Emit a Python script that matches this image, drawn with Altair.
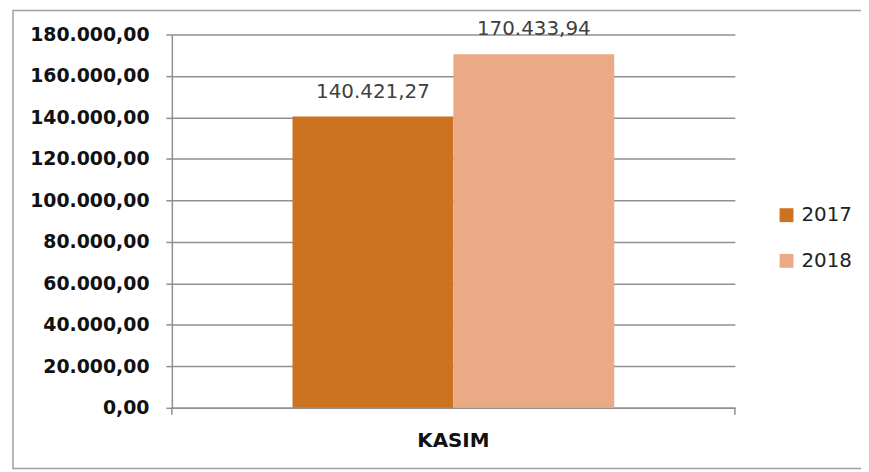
import altair as alt
import pandas as pd

category = ["KASIM", "KASIM"]
years = ["2017", "2018"]
values = [140421.27, 170433.94]
y_ticks = [0, 20000, 40000, 60000, 80000, 100000, 120000, 140000, 160000, 180000]
colors = ["#CC7320", "#EAAA86"]

df = pd.DataFrame({"ay": category, "yil": years, "deger": values})

FONT = "DejaVu Sans"
GRID = "#8f8f8f"
W, H = 567, 376

base = alt.Chart(df)

x_enc = alt.X("ay:N", title=None,
              scale=alt.Scale(paddingInner=0, paddingOuter=0),
              axis=alt.Axis(labelAngle=0, ticks=False, labelFont=FONT, labelFontSize=20,
                            labelFontWeight="bold", labelColor="#111111", labelPadding=23,
                            domainColor=GRID, domainWidth=1.5))
xo_enc = alt.XOffset("yil:N", scale=alt.Scale(paddingInner=0, paddingOuter=0.75))
y_enc = alt.Y("deger:Q", title=None,
              scale=alt.Scale(domain=[0, 180000], nice=False),
              axis=alt.Axis(values=y_ticks, format=",.2f", labelFont=FONT, labelFontSize=19,
                            labelFontWeight="bold", labelColor="#111111", labelPadding=17,
                            tickSize=6, tickColor=GRID, tickWidth=1.5,
                            gridColor=GRID, gridWidth=1.5,
                            domainColor=GRID, domainWidth=1.5))

bars = base.mark_bar().encode(
    x=x_enc, xOffset=xo_enc, y=y_enc,
    color=alt.Color("yil:N", scale=alt.Scale(domain=years, range=colors),
                    legend=alt.Legend(title=None, orient="none", legendX=609, legendY=172,
                                      symbolType="square", symbolSize=196, symbolStrokeWidth=0,
                                      labelFont=FONT, labelFontSize=20, labelColor="#222222",
                                      labelOffset=5, rowPadding=26)),
)

labels = base.mark_text(font=FONT, fontSize=20, color="#404040", baseline="alphabetic", dy=-19).encode(
    x=alt.X("ay:N"), xOffset=alt.XOffset("yil:N"), y=alt.Y("deger:Q"),
    text=alt.Text("deger:Q", format=",.2f"),
)

one = alt.Data(values=[{"k": 1}])
tick_l = alt.Chart(one).mark_rule(color=GRID, strokeWidth=1.5).encode(
    x=alt.value(0), y=alt.value(H), y2=alt.value(H + 7))
tick_r = alt.Chart(one).mark_rule(color=GRID, strokeWidth=1.5).encode(
    x=alt.value(W), y=alt.value(H), y2=alt.value(H + 7))
frame = alt.Chart(one).mark_rect(fillOpacity=0, stroke="#a0a0a0", strokeWidth=1.5).encode(
    x=alt.value(-160), x2=alt.value(696), y=alt.value(-24), y2=alt.value(437))

chart = alt.layer(frame, bars, labels, tick_l, tick_r).properties(
    width=W, height=H,
    autosize=alt.AutoSizeParams(type="none"),
    padding={"left": 165, "top": 25, "right": 127, "bottom": 62},
).configure(
    locale={"number": {"decimal": ",", "thousands": ".", "grouping": [3], "currency": ["", ""]}},
).configure_view(stroke=None)

chart.save("out.html", embed_options={"renderer": "svg", "actions": False})
